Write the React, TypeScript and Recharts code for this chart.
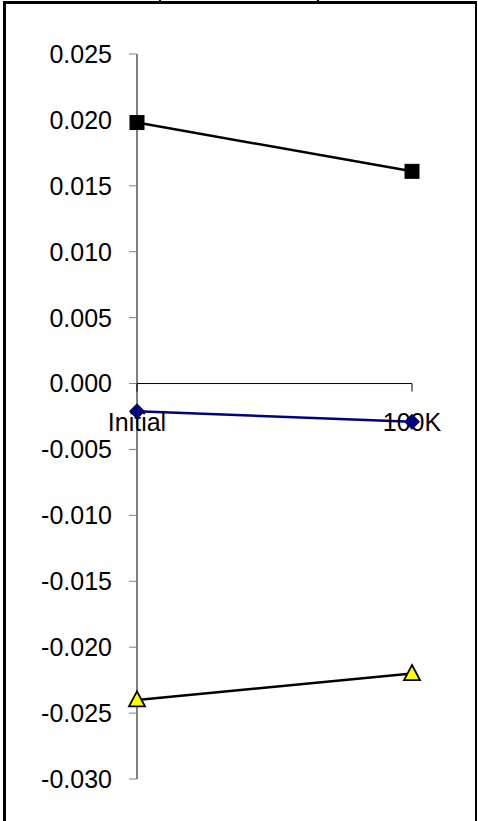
import React from 'react';
import { LineChart, Line, XAxis, YAxis, ReferenceLine, ReferenceDot } from 'recharts';

const categories = ['Initial', '100K'];
const squareSeries = [0.0198, 0.0161];
const diamondSeries = [-0.0021, -0.0029];
const triangleSeries = [-0.024, -0.022];
const yTicks = [0.025, 0.02, 0.015, 0.01, 0.005, 0, -0.005, -0.01, -0.015, -0.02, -0.025, -0.03];

const data = categories.map((c, i) => ({
  cat: c,
  sq: squareSeries[i],
  di: diamondSeries[i],
  tr: triangleSeries[i],
}));

const FONT = '"Liberation Sans", Arial, sans-serif';

const SquareDot = (p: any) => {
  const { cx, cy } = p;
  if (cx == null || cy == null) return <g />;
  const s = 14;
  return <rect x={cx - s / 2} y={cy - s / 2} width={s} height={s} fill="#000" stroke="#000" strokeWidth={1} />;
};

const DiamondDot = (p: any) => {
  const { cx, cy } = p;
  if (cx == null || cy == null) return <g />;
  const r = 7.5;
  return (
    <path
      d={`M${cx},${cy - r}L${cx + r},${cy}L${cx},${cy + r}L${cx - r},${cy}Z`}
      fill="#000080"
      stroke="#000033"
      strokeWidth={1}
    />
  );
};

const TriangleDot = (p: any) => {
  const { cx, cy } = p;
  if (cx == null || cy == null) return <g />;
  const w = 8;
  return (
    <path
      d={`M${cx},${cy - 8.5}L${cx + w},${cy + 6.5}L${cx - w},${cy + 6.5}Z`}
      fill="#FFFF00"
      stroke="#000"
      strokeWidth={1.8}
      strokeLinejoin="miter"
    />
  );
};

const CatLabel = (p: any) => {
  const { cx, cy, text } = p;
  if (cx == null || cy == null) return <g />;
  return (
    <g>
      <line x1={cx} y1={cy} x2={cx} y2={cy + 8} stroke="#000" strokeWidth={1} />
      <text x={cx} y={cy + 47} textAnchor="middle" fontSize={25} fontFamily={FONT} fill="#000">
        {text}
      </text>
    </g>
  );
};

export default function App() {
  return (
    <div style={{ position: 'absolute', left: 0, top: 0, width: 478, height: 821, background: '#fff', overflow: 'hidden' }}>
      <div
        style={{
          position: 'absolute',
          left: 3,
          top: 1,
          width: 469,
          height: 830,
          borderTop: '3px solid #000',
          borderLeft: '3px solid #000',
          borderRight: '2px solid #000',
        }}
      />
      <div style={{ position: 'absolute', left: 159, top: 0, width: 2, height: 2, background: '#000' }} />
      <div style={{ position: 'absolute', left: 317, top: 0, width: 2, height: 2, background: '#000' }} />
      <div style={{ position: 'absolute', left: 0, top: 0 }}>
        <LineChart width={478} height={821} data={data} margin={{ top: 54, right: 66, bottom: 42, left: 0 }}>
          <XAxis dataKey="cat" type="category" scale="point" hide />
          <YAxis
            type="number"
            domain={[-0.03, 0.025]}
            ticks={yTicks}
            interval={0}
            width={137}
            tickSize={8}
            tickMargin={17}
            axisLine={{ stroke: '#000', strokeWidth: 1 }}
            tickLine={{ stroke: '#808080', strokeWidth: 1 }}
            tick={{ fontSize: 25, fill: '#000', fontFamily: FONT }}
            tickFormatter={(v: number) => (Math.abs(v) < 1e-9 ? '0.000' : v.toFixed(3))}
            allowDataOverflow
          />
          <ReferenceLine y={0} stroke="#000" strokeWidth={1} ifOverflow="visible" />
          {categories.map((c) => (
            <ReferenceDot
              key={c}
              x={c}
              y={0}
              r={0}
              ifOverflow="visible"
              shape={(p: any) => <CatLabel {...p} text={c} />}
            />
          ))}
          <Line
            dataKey="sq"
            stroke="#000"
            strokeWidth={2.5}
            dot={(p: any) => <SquareDot key={`sq-${p.index}`} {...p} />}
            isAnimationActive={false}
          />
          <Line
            dataKey="di"
            stroke="#000080"
            strokeWidth={2.5}
            dot={(p: any) => <DiamondDot key={`di-${p.index}`} {...p} />}
            isAnimationActive={false}
          />
          <Line
            dataKey="tr"
            stroke="#000"
            strokeWidth={2.5}
            dot={(p: any) => <TriangleDot key={`tr-${p.index}`} {...p} />}
            isAnimationActive={false}
          />
        </LineChart>
      </div>
    </div>
  );
}
